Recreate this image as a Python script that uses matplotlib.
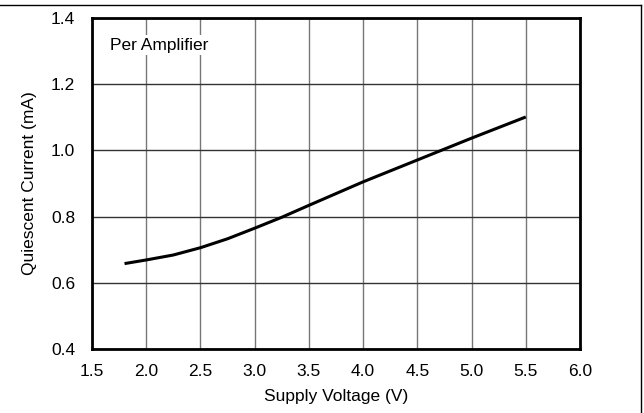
import matplotlib
matplotlib.use("Agg")
import matplotlib.pyplot as plt
from matplotlib.lines import Line2D

supply_voltage = [1.8, 2.0, 2.25, 2.5, 2.75, 3.0, 3.25, 3.5, 4.0, 4.5, 5.0, 5.5]
quiescent_current = [0.658, 0.669, 0.684, 0.706, 0.733, 0.765, 0.798, 0.834, 0.905, 0.971, 1.037, 1.101]
x_ticks = [1.5, 2.0, 2.5, 3.0, 3.5, 4.0, 4.5, 5.0, 5.5, 6.0]
y_ticks = [0.4, 0.6, 0.8, 1.0, 1.2, 1.4]

plt.rcParams['font.family'] = ['Liberation Sans', 'DejaVu Sans']
FS = 12.5

fig = plt.figure(figsize=(6.44, 4.13), dpi=100)
ax = fig.add_axes([92/644, 1 - 349/413, (580-92)/644, (349-18)/413])

ax.plot(supply_voltage, quiescent_current, color='black', lw=2.2, solid_capstyle='butt',
        solid_joinstyle='round', zorder=3)

ax.set_xlim(1.5, 6.0)
ax.set_ylim(0.4, 1.4)
ax.set_xticks(x_ticks)
ax.set_yticks(y_ticks)
ax.set_xticklabels([f"{v:.1f}" for v in x_ticks])
ax.set_yticklabels([f"{v:.1f}" for v in y_ticks])
ax.tick_params(length=0, labelsize=FS, colors='black')
ax.tick_params(axis='x', pad=11)
ax.tick_params(axis='y', pad=12)

ax.xaxis.grid(True, color='#777777', lw=1.0)
ax.yaxis.grid(True, color='#333333', lw=1.0)
ax.set_axisbelow(True)
for s in ax.spines.values():
    s.set_linewidth(2.0)
    s.set_color('black')

ax.set_xlabel("Supply Voltage (V)", fontsize=FS, labelpad=7)
ax.set_ylabel("Quiescent Current (mA)", fontsize=FS, labelpad=10)

ax.text(1.666, 1.318, "Per Amplifier", fontsize=FS, va='center', ha='left',
        bbox=dict(facecolor='white', edgecolor='none', pad=2), zorder=4)

# figure border (top and right)
fig.add_artist(Line2D([0, 641/644], [1 - 5/413, 1 - 5/413], transform=fig.transFigure, color='black', lw=1.0))
fig.add_artist(Line2D([641/644, 641/644], [1 - 5/413, 0], transform=fig.transFigure, color='black', lw=1.0))

fig.savefig("out.png", dpi=100)
